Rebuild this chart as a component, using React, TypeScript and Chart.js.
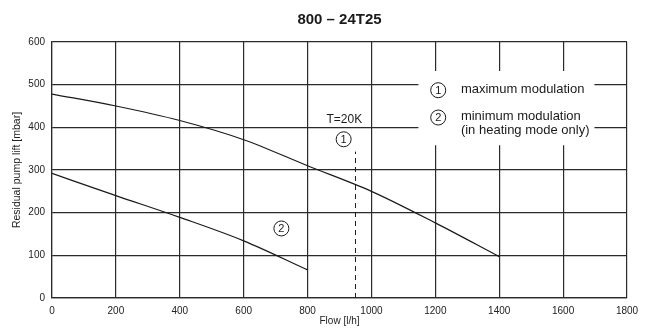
import React, { useEffect, useRef } from "react";
import { Chart, registerables } from "chart.js";

Chart.register(...registerables);

// ---- data ----
const chartTitle = "800 – 24T25";
const xAxisTitle = "Flow [l/h]";
const yAxisTitle = "Residual pump lift [mbar]";
const flowMax = [0, 200, 400, 600, 800, 1000, 1200, 1400];
const liftMax = [478, 450, 416, 371, 310, 250, 176, 97];
const flowMin = [0, 200, 400, 600, 800];
const liftMin = [292, 240, 189, 134, 66];
const dashFlow = [950, 950];
const dashLift = [0, 343];
const tempLabel = "T=20K";
const legendItems = ["maximum modulation", "minimum modulation", "(in heating mode only)"];

const FONT = "'Liberation Sans', Arial, Helvetica, sans-serif";
const INK = "#1a1a1a";

const annotationPlugin = {
  id: "pumpAnnotations",
  beforeDatasetsDraw(chart: any) {
    const { ctx, scales } = chart;
    const x = scales.x;
    const y = scales.y;
    // white legend box over the grid
    const x0 = x.getPixelForValue(1147);
    const x1 = x.getPixelForValue(1698);
    const y0 = y.getPixelForValue(532);
    const y1 = y.getPixelForValue(358);
    ctx.save();
    ctx.fillStyle = "#ffffff";
    ctx.fillRect(x0, y0, x1 - x0, y1 - y0);
    ctx.restore();
  },
  afterDatasetsDraw(chart: any) {
    const { ctx, scales, chartArea } = chart;
    const x = scales.x;
    const y = scales.y;
    const circle = (cx: number, cy: number, label: string) => {
      ctx.beginPath();
      ctx.arc(cx, cy, 7.5, 0, Math.PI * 2);
      ctx.lineWidth = 1;
      ctx.strokeStyle = INK;
      ctx.stroke();
      ctx.font = `11px ${FONT}`;
      ctx.fillStyle = INK;
      ctx.textAlign = "center";
      ctx.textBaseline = "middle";
      ctx.fillText(label, cx, cy + 0.5);
    };
    ctx.save();
    // chart title, centred over the plot area
    ctx.font = `bold 15px ${FONT}`;
    ctx.fillStyle = INK;
    ctx.textAlign = "center";
    ctx.textBaseline = "middle";
    ctx.fillText(chartTitle, (chartArea.left + chartArea.right) / 2, 20);
    // T=20K
    ctx.font = `12px ${FONT}`;
    ctx.fillText(tempLabel, x.getPixelForValue(915), y.getPixelForValue(418));
    circle(x.getPixelForValue(913), y.getPixelForValue(372), "1");
    circle(x.getPixelForValue(718), y.getPixelForValue(163), "2");
    // legend
    const lx = x.getPixelForValue(1209);
    circle(lx, y.getPixelForValue(487), "1");
    circle(lx, y.getPixelForValue(423), "2");
    ctx.font = `13px ${FONT}`;
    ctx.fillStyle = INK;
    ctx.textAlign = "left";
    ctx.textBaseline = "middle";
    const tx = x.getPixelForValue(1280);
    ctx.fillText(legendItems[0], tx, y.getPixelForValue(489));
    ctx.fillText(legendItems[1], tx, y.getPixelForValue(426));
    ctx.fillText(legendItems[2], tx, y.getPixelForValue(392));
    ctx.restore();
  },
};

export default function App() {
  const ref = useRef<HTMLCanvasElement | null>(null);
  useEffect(() => {
    if (!ref.current) return;
    const toPts = (xs: number[], ys: number[]) => xs.map((v, i) => ({ x: v, y: ys[i] }));
    const chart = new Chart(ref.current, {
      type: "line",
      data: {
        datasets: [
          {
            data: toPts(flowMax, liftMax),
            borderColor: INK,
            borderWidth: 1.2,
            pointRadius: 0,
            cubicInterpolationMode: "monotone",
          },
          {
            data: toPts(flowMin, liftMin),
            borderColor: INK,
            borderWidth: 1.2,
            pointRadius: 0,
            cubicInterpolationMode: "monotone",
          },
          {
            data: toPts(dashFlow, dashLift),
            borderColor: INK,
            borderWidth: 1,
            borderDash: [5, 4],
            pointRadius: 0,
          },
        ],
      },
      options: {
        responsive: false,
        animation: false,
        devicePixelRatio: 1,
        layout: { padding: { left: 0, right: 24, top: 42, bottom: 0 } },
        plugins: {
          legend: { display: false },
          tooltip: { enabled: false },
          title: { display: false },
        },
        scales: {
          x: {
            type: "linear",
            min: 0,
            max: 1800,
            afterFit: (s: any) => {
              s.height = 33;
            },
            ticks: {
              stepSize: 200,
              color: "#222",
              padding: 7,
              maxRotation: 0,
              font: { family: FONT, size: 10 },
              callback: (v: any) => String(v),
            },
            grid: { color: "#2a2a2a", lineWidth: 1.2, drawTicks: false },
            border: { color: "#2a2a2a", width: 1.2 },
            title: {
              display: true,
              text: xAxisTitle,
              color: "#222",
              font: { family: FONT, size: 10 },
              padding: { top: 0, bottom: 4 },
            },
          },
          y: {
            type: "linear",
            min: 0,
            max: 600,
            afterFit: (s: any) => {
              s.width = 52;
            },
            ticks: {
              stepSize: 100,
              color: "#222",
              padding: 7,
              font: { family: FONT, size: 10 },
              callback: (v: any) => String(v),
            },
            grid: { color: "#2a2a2a", lineWidth: 1.2, drawTicks: false },
            border: { color: "#2a2a2a", width: 1.2 },
            title: {
              display: true,
              text: yAxisTitle,
              color: "#222",
              font: { family: FONT, size: 10.5 },
              padding: { top: 11, bottom: 0 },
            },
          },
        },
      },
      plugins: [annotationPlugin],
    } as any);
    return () => chart.destroy();
  }, []);
  return (
    <div style={{ position: "fixed", left: 0, top: 0, width: 651, height: 331, background: "#fff" }}>
      <canvas ref={ref} width={651} height={331} style={{ width: 651, height: 331, display: "block" }} />
    </div>
  );
}
